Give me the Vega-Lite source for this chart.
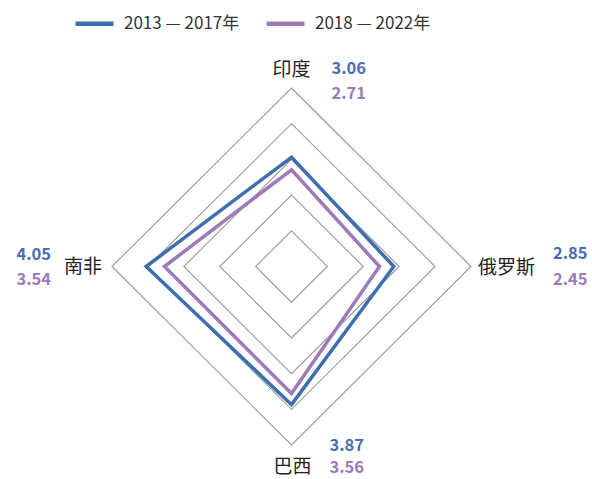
{
  "$schema": "https://vega.github.io/schema/vega-lite/v6.json",
  "width": 359,
  "height": 357,
  "autosize": {"type": "none"},
  "padding": {"left": 112, "top": 88, "right": 121, "bottom": 34},
  "config": {"view": {"stroke": null}, "font": "Noto Sans CJK SC"},
  "datasets": {
    "scores": [
      {"country": "印度", "series": "2013 — 2017年", "value": 3.06},
      {"country": "俄罗斯", "series": "2013 — 2017年", "value": 2.85},
      {"country": "巴西", "series": "2013 — 2017年", "value": 3.87},
      {"country": "南非", "series": "2013 — 2017年", "value": 4.05},
      {"country": "印度", "series": "2018 — 2022年", "value": 2.71},
      {"country": "俄罗斯", "series": "2018 — 2022年", "value": 2.45},
      {"country": "巴西", "series": "2018 — 2022年", "value": 3.56},
      {"country": "南非", "series": "2018 — 2022年", "value": 3.54}
    ],
    "rings": [
      {"level": 1, "country": "印度"}, {"level": 1, "country": "俄罗斯"}, {"level": 1, "country": "巴西"}, {"level": 1, "country": "南非"},
      {"level": 2, "country": "印度"}, {"level": 2, "country": "俄罗斯"}, {"level": 2, "country": "巴西"}, {"level": 2, "country": "南非"},
      {"level": 3, "country": "印度"}, {"level": 3, "country": "俄罗斯"}, {"level": 3, "country": "巴西"}, {"level": 3, "country": "南非"},
      {"level": 4, "country": "印度"}, {"level": 4, "country": "俄罗斯"}, {"level": 4, "country": "巴西"}, {"level": 4, "country": "南非"},
      {"level": 5, "country": "印度"}, {"level": 5, "country": "俄罗斯"}, {"level": 5, "country": "巴西"}, {"level": 5, "country": "南非"}
    ]
  },
  "data": {"name": "scores"},
  "transform": [
    {"calculate": "indexof(['印度','俄罗斯','巴西','南非'], datum.country)", "as": "idx"},
    {"calculate": "datum.value * sin(datum.idx * PI / 2)", "as": "x"},
    {"calculate": "datum.value * cos(datum.idx * PI / 2)", "as": "y"},
    {"calculate": "5 * sin(datum.idx * PI / 2)", "as": "tx"},
    {"calculate": "5 * cos(datum.idx * PI / 2)", "as": "ty"}
  ],
  "encoding": {
    "x": {"field": "tx", "type": "quantitative", "scale": {"domain": [-5, 5], "nice": false, "zero": false}, "axis": null},
    "y": {"field": "ty", "type": "quantitative", "scale": {"domain": [-5, 5], "nice": false, "zero": false}, "axis": null}
  },
  "layer": [
    {
      "data": {"name": "rings"},
      "transform": [
        {"calculate": "indexof(['印度','俄罗斯','巴西','南非'], datum.country)", "as": "idx"},
        {"calculate": "datum.level * sin(datum.idx * PI / 2)", "as": "x"},
        {"calculate": "datum.level * cos(datum.idx * PI / 2)", "as": "y"}
      ],
      "mark": {"type": "line", "interpolate": "linear-closed", "stroke": "#9a9a9a", "strokeWidth": 1.1, "strokeJoin": "miter"},
      "encoding": {
        "x": {"field": "x", "type": "quantitative"},
        "y": {"field": "y", "type": "quantitative"},
        "detail": {"field": "level", "type": "nominal"},
        "order": {"field": "idx", "type": "quantitative"}
      }
    },
    {
      "mark": {"type": "line", "interpolate": "linear-closed", "strokeWidth": 3.5, "strokeJoin": "miter"},
      "encoding": {
        "x": {"field": "x", "type": "quantitative"},
        "y": {"field": "y", "type": "quantitative"},
        "order": {"field": "idx", "type": "quantitative"},
        "color": {
          "field": "series", "type": "nominal",
          "scale": {"domain": ["2013 — 2017年", "2018 — 2022年"], "range": ["#3d6fae", "#9c7bb6"]},
          "legend": {
            "orient": "none", "legendX": -39, "legendY": -86, "direction": "horizontal",
            "title": null, "symbolType": "stroke", "symbolSize": 1444, "symbolStrokeWidth": 4.5,
            "labelFontSize": 17, "labelColor": "#333333", "labelFont": "Noto Sans CJK SC",
            "columnPadding": 17, "labelOffset": 8
          }
        }
      }
    },
    {
      "transform": [{"filter": "datum.country == '印度' && datum.series == '2013 — 2017年'"}],
      "mark": {"type": "text", "align": "center", "baseline": "middle", "dx": 0, "dy": -18, "fontSize": 19, "color": "#222222"},
      "encoding": {"text": {"field": "country"}}
    },
    {
      "transform": [{"filter": "datum.country == '南非' && datum.series == '2013 — 2017年'"}],
      "mark": {"type": "text", "align": "right", "baseline": "middle", "dx": -10, "dy": 0, "fontSize": 19, "color": "#222222"},
      "encoding": {"text": {"field": "country"}}
    },
    {
      "transform": [{"filter": "datum.country == '俄罗斯' && datum.series == '2013 — 2017年'"}],
      "mark": {"type": "text", "align": "left", "baseline": "middle", "dx": 7, "dy": 1, "fontSize": 19, "color": "#222222"},
      "encoding": {"text": {"field": "country"}}
    },
    {
      "transform": [{"filter": "datum.country == '巴西' && datum.series == '2013 — 2017年'"}],
      "mark": {"type": "text", "align": "center", "baseline": "middle", "dx": 1, "dy": 22, "fontSize": 19, "color": "#222222"},
      "encoding": {"text": {"field": "country"}}
    },
    {
      "transform": [{"filter": "datum.country == '印度' && datum.series == '2013 — 2017年'"}],
      "mark": {"type": "text", "align": "left", "baseline": "middle", "dx": 40, "dy": -19, "fontSize": 16.5, "fontWeight": "bold", "color": "#4a6db5"},
      "encoding": {"text": {"field": "value", "format": ".2f"}}
    },
    {
      "transform": [{"filter": "datum.country == '印度' && datum.series == '2018 — 2022年'"}],
      "mark": {"type": "text", "align": "left", "baseline": "middle", "dx": 40, "dy": 6, "fontSize": 16.5, "fontWeight": "bold", "color": "#9c7bb6"},
      "encoding": {"text": {"field": "value", "format": ".2f"}}
    },
    {
      "transform": [{"filter": "datum.country == '南非' && datum.series == '2013 — 2017年'"}],
      "mark": {"type": "text", "align": "right", "baseline": "middle", "dx": -61, "dy": -12, "fontSize": 16.5, "fontWeight": "bold", "color": "#4a6db5"},
      "encoding": {"text": {"field": "value", "format": ".2f"}}
    },
    {
      "transform": [{"filter": "datum.country == '南非' && datum.series == '2018 — 2022年'"}],
      "mark": {"type": "text", "align": "right", "baseline": "middle", "dx": -61, "dy": 13, "fontSize": 16.5, "fontWeight": "bold", "color": "#9c7bb6"},
      "encoding": {"text": {"field": "value", "format": ".2f"}}
    },
    {
      "transform": [{"filter": "datum.country == '俄罗斯' && datum.series == '2013 — 2017年'"}],
      "mark": {"type": "text", "align": "left", "baseline": "middle", "dx": 82, "dy": -13, "fontSize": 16.5, "fontWeight": "bold", "color": "#4a6db5"},
      "encoding": {"text": {"field": "value", "format": ".2f"}}
    },
    {
      "transform": [{"filter": "datum.country == '俄罗斯' && datum.series == '2018 — 2022年'"}],
      "mark": {"type": "text", "align": "left", "baseline": "middle", "dx": 82, "dy": 13, "fontSize": 16.5, "fontWeight": "bold", "color": "#9c7bb6"},
      "encoding": {"text": {"field": "value", "format": ".2f"}}
    },
    {
      "transform": [{"filter": "datum.country == '巴西' && datum.series == '2013 — 2017年'"}],
      "mark": {"type": "text", "align": "left", "baseline": "middle", "dx": 38, "dy": 1, "fontSize": 16.5, "fontWeight": "bold", "color": "#4a6db5"},
      "encoding": {"text": {"field": "value", "format": ".2f"}}
    },
    {
      "transform": [{"filter": "datum.country == '巴西' && datum.series == '2018 — 2022年'"}],
      "mark": {"type": "text", "align": "left", "baseline": "middle", "dx": 38, "dy": 23, "fontSize": 16.5, "fontWeight": "bold", "color": "#9c7bb6"},
      "encoding": {"text": {"field": "value", "format": ".2f"}}
    }
  ]
}
